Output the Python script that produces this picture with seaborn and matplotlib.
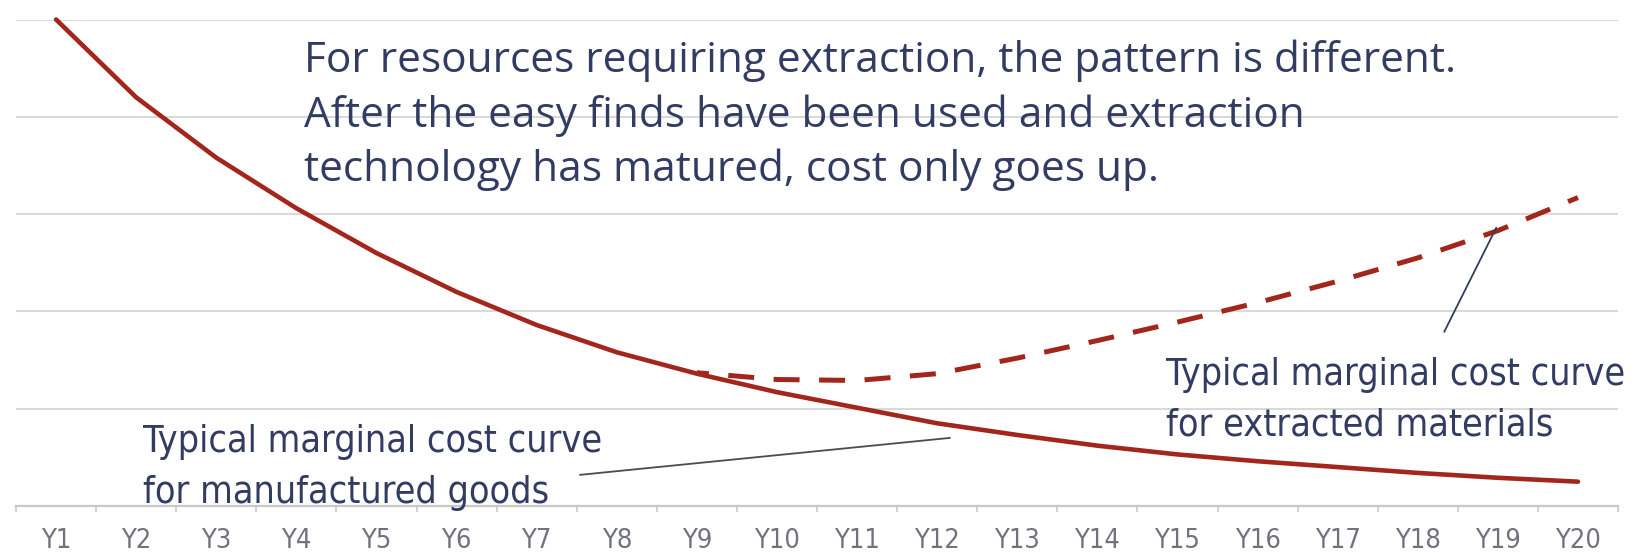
import numpy as np
import pandas as pd
import matplotlib
matplotlib.use('Agg')
import matplotlib.pyplot as plt
import seaborn as sns

# Years on the x axis
years = ["Y%d" % i for i in range(1, 21)]

# Marginal cost, manufactured goods (solid)
manufactured = [5.0, 4.2, 3.58, 3.06, 2.6, 2.2, 1.86, 1.58, 1.36, 1.17,
                1.01, 0.85, 0.73, 0.62, 0.53, 0.46, 0.40, 0.34, 0.29, 0.25]

# Marginal cost, extracted materials (dashed, from Y9 on)
extracted_years = years[8:]
extracted = [1.37, 1.30, 1.29, 1.36, 1.52, 1.70, 1.89, 2.09, 2.31, 2.55, 2.83, 3.17]

red = '#A3261C'
navy = '#323C62'

sns.set_theme(style='white')

fig = plt.figure(figsize=(16.37, 5.53), dpi=100)
ax = fig.add_axes([0.0098, 0.085, 0.9786, 0.8797])

sns.lineplot(x=years, y=manufactured, ax=ax, color=red, lw=3.3,
             solid_capstyle='round', clip_on=False, sort=False)
sns.lineplot(x=extracted_years, y=extracted, ax=ax, color=red, lw=3.6,
             linestyle=(2.8, (5.2, 3.9)), dash_capstyle='butt',
             clip_on=False, sort=False)

ax.set_xlim(-0.5, len(years) - 0.5)
ax.set_ylim(0, 5)
ax.set_yticks(range(6))
ax.set_yticklabels([])
ax.tick_params(axis='y', length=0)
ax.grid(axis='y', color='#D9D9D9', lw=1.5)
ax.set_axisbelow(True)
for s in ['top', 'left', 'right']:
    ax.spines[s].set_visible(False)
ax.spines['bottom'].set_color('#C8C8C8')
ax.spines['bottom'].set_linewidth(1.6)

ax.set_xticks(np.arange(len(years)))
ax.set_xticklabels(years, family='DejaVu Sans', fontstretch='condensed',
                   fontsize=19.5, color='#70727F')
ax.set_xticks(np.arange(len(years) + 1) - 0.5, minor=True)
ax.tick_params(axis='x', which='major', length=0, pad=15.5)
ax.tick_params(axis='x', which='minor', length=4, width=1.2, color='#C8C8C8',
               bottom=True)

main_text = ("For resources requiring extraction, the pattern is different.\n"
             "After the easy finds have been used and extraction\n"
             "technology has matured, cost only goes up.")
ax.text(3.09, 4.79, main_text, family=['Open Sans', 'DejaVu Sans'], fontsize=30.5,
        color=navy, va='top', ha='left', linespacing=1.36)

ax.text(1.08, 0.84, "Typical marginal cost curve\nfor manufactured goods",
        family='DejaVu Sans', fontstretch='condensed', fontsize=27,
        color=navy, va='top', ha='left', linespacing=1.53)
ax.text(13.86, 1.53, "Typical marginal cost curve\nfor extracted materials",
        family='DejaVu Sans', fontstretch='condensed', fontsize=27,
        color=navy, va='top', ha='left', linespacing=1.53)

# leader lines
ax.plot([6.54, 11.16], [0.32, 0.70], color='#4A4A55', lw=1.3)
ax.plot([17.33, 17.98], [1.79, 2.86], color=navy, lw=1.3)

fig.savefig('out.png', dpi=100)
